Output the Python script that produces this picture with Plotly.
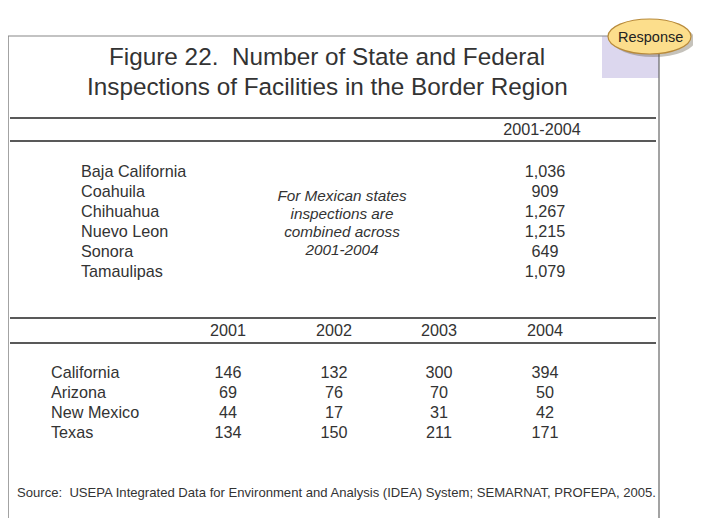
import plotly.graph_objects as go

W, H = 701, 518
OFF = 8  # page body margin; axes are set up so data units equal page pixels
FONT = "Liberation Sans, Arial, sans-serif"
INK = "#333333"

# Mexican states, combined 2001-2004
mx_states = ["Baja California", "Coahuila", "Chihuahua", "Nuevo Leon", "Sonora", "Tamaulipas"]
mx_total = [1036, 909, 1267, 1215, 649, 1079]

# US border states by year
us_years = ["2001", "2002", "2003", "2004"]
us_states = ["California", "Arizona", "New Mexico", "Texas"]
us_2001 = [146, 69, 44, 134]
us_2002 = [132, 76, 17, 150]
us_2003 = [300, 70, 31, 211]
us_2004 = [394, 50, 42, 171]

note_lines = ["For Mexican states", "inspections are", "combined across", "2001-2004"]

# layout (pixel coordinates)
col_x = [228, 334, 439, 545]
mx_y0, us_y0, row_h = 172.5, 373.5, 20
BODY = 16.2

fig = go.Figure()

def txt(x, y, s, pos="middle center", size=BODY, italic=False, color=INK):
    fig.add_trace(go.Scatter(
        x=x, y=y, text=s, mode="text", textposition=pos, hoverinfo="skip",
        textfont=dict(family=FONT, size=size, color=color,
                      style="italic" if italic else "normal"),
    ))

# Mexican block
mx_rows = [mx_y0 + i * row_h for i in range(len(mx_states))]
txt([81] * len(mx_states), mx_rows, mx_states, pos="middle right")
txt([col_x[3]] * len(mx_total), mx_rows, [f"{v:,}" for v in mx_total])
txt([342] * len(note_lines), [197.5 + i * 18 for i in range(len(note_lines))],
    note_lines, size=15.3, italic=True)
txt([542], [130.5], ["2001-2004"])

# US block
txt(col_x, [331.5] * 4, us_years)
us_rows = [us_y0 + i * row_h for i in range(len(us_states))]
txt([51] * len(us_states), us_rows, us_states, pos="middle right")
for cx, vals in zip(col_x, [us_2001, us_2002, us_2003, us_2004]):
    txt([cx] * len(vals), us_rows, [str(v) for v in vals])

shapes = []
# outer box
shapes.append(dict(type="line", x0=8, x1=8, y0=36, y1=H, line=dict(color="#666666", width=1.2)))
shapes.append(dict(type="line", x0=659, x1=659, y0=36, y1=H, line=dict(color="#666666", width=1.2)))
shapes.append(dict(type="line", x0=8, x1=620, y0=36, y1=36, line=dict(color="#888888", width=1.2)))
# lavender tab behind the button
shapes.append(dict(type="rect", x0=602, x1=659, y0=36, y1=78, fillcolor="#DCD7EE", line=dict(width=0), layer="below"))
# rules
for yy in [118, 141, 318, 343]:
    shapes.append(dict(type="line", x0=10, x1=656, y0=yy, y1=yy, line=dict(color="#222222", width=1.3)))
# button shadow + button
shapes.append(dict(type="circle", x0=612, x1=695, y0=23, y1=57, fillcolor="rgba(90,80,60,0.35)", line=dict(width=0)))
shapes.append(dict(type="circle", x0=608, x1=691, y0=19, y1=54, fillcolor="#FCDE8C",
                   line=dict(color="#B88A3A", width=1.2)))

fig.update_layout(
    width=W - OFF, height=H - OFF, margin=dict(l=0, r=0, t=0, b=0),
    paper_bgcolor="white", plot_bgcolor="white", showlegend=False,
    xaxis=dict(range=[OFF, W], visible=False, fixedrange=True),
    yaxis=dict(range=[H, OFF], visible=False, fixedrange=True),
    shapes=shapes,
    annotations=[
        dict(x=327, y=56, xref="x", yref="y", text="Figure 22.  Number of State and Federal",
             showarrow=False, font=dict(family=FONT, size=24.3, color=INK)),
        dict(x=327, y=86, xref="x", yref="y", text="Inspections of Facilities in the Border Region",
             showarrow=False, font=dict(family=FONT, size=24.3, color=INK)),
        dict(x=650, y=37, xref="x", yref="y", text="Response",
             showarrow=False, font=dict(family=FONT, size=14.5, color="#222222")),
        dict(x=15, y=492, xref="x", yref="y", xanchor="left",
             text="Source:  USEPA Integrated Data for Environment and Analysis (IDEA) System; SEMARNAT, PROFEPA, 2005.",
             showarrow=False, font=dict(family=FONT, size=13.1, color=INK)),
    ],
)

fig.write_html("out.html")
